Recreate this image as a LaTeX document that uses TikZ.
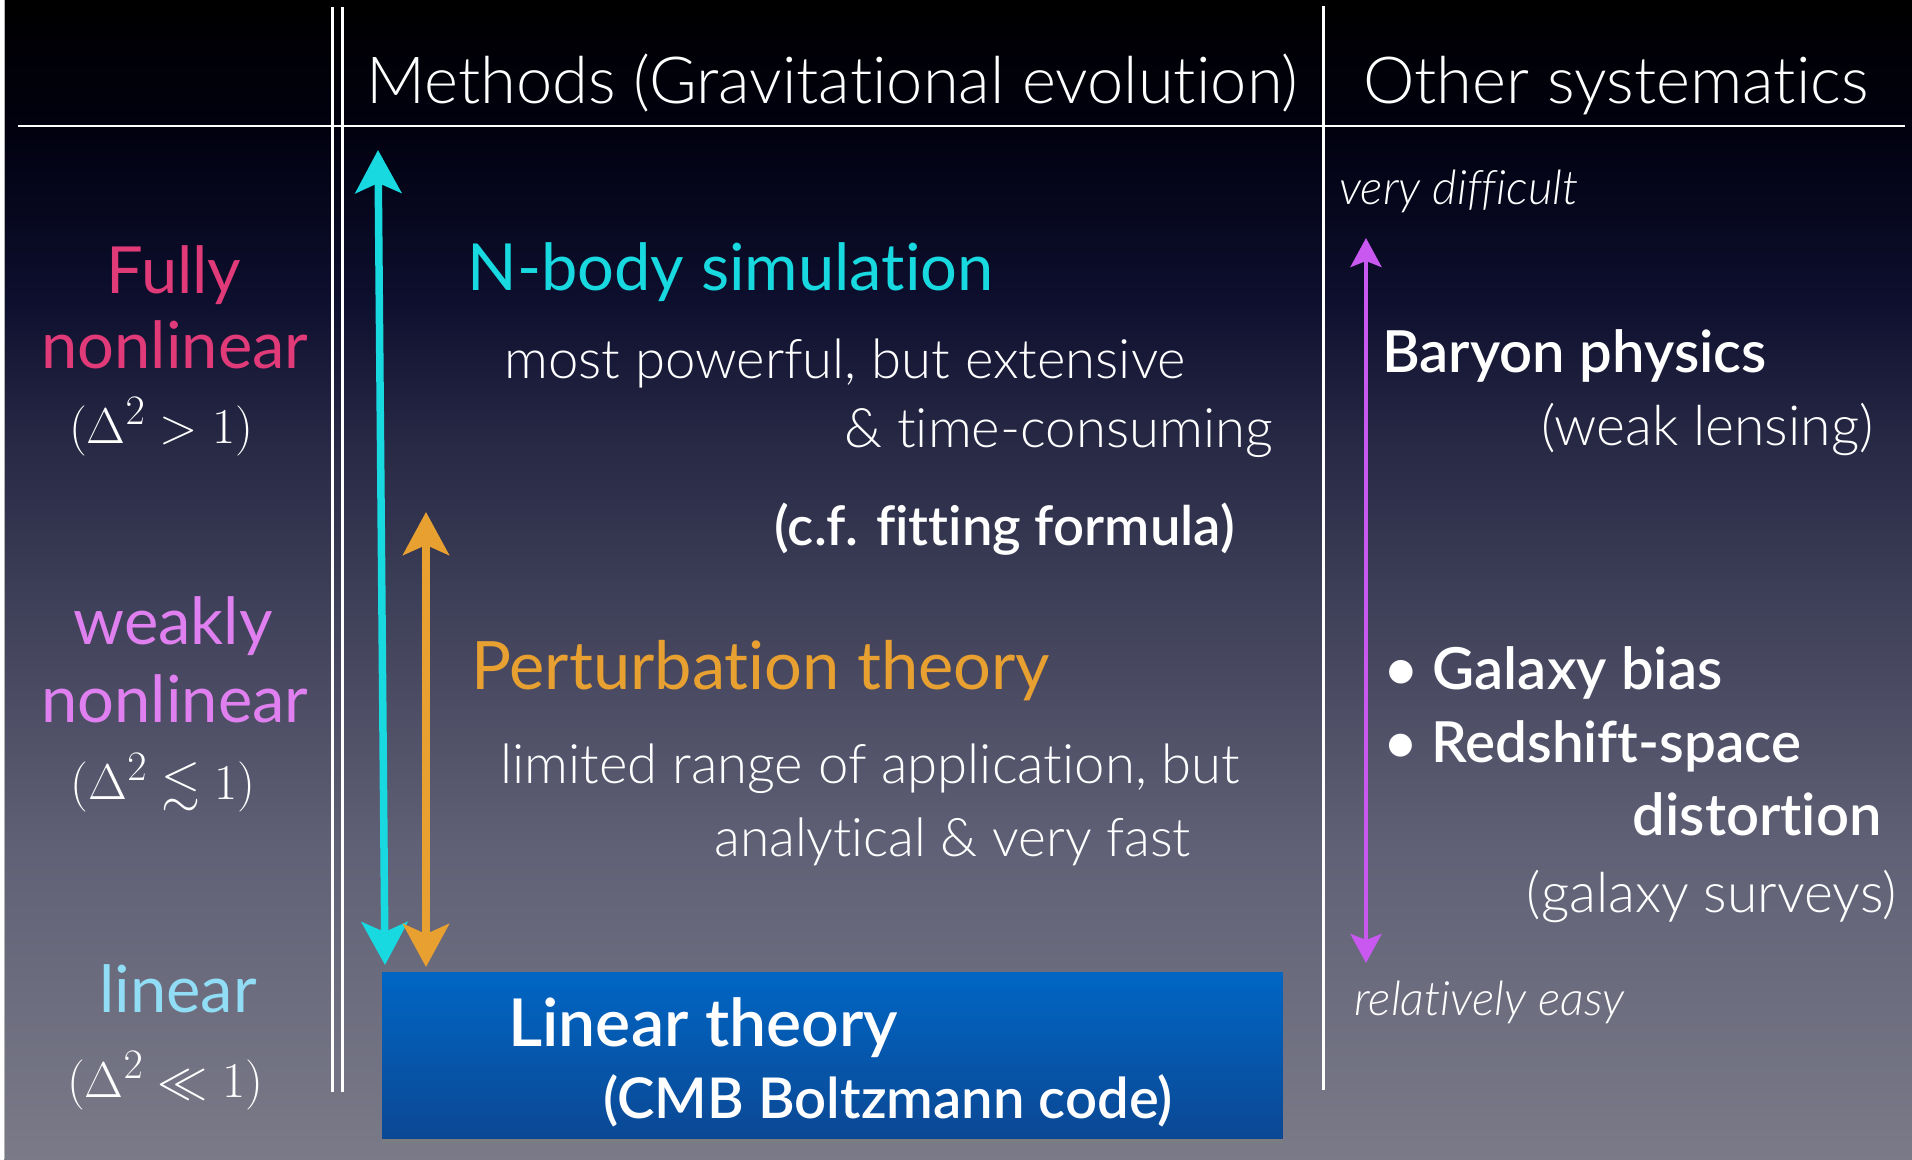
\documentclass[tikz,border=0pt]{standalone}
\usepackage{amssymb}
\usepackage{fontspec}
\setmainfont{Lato}[Ligatures={NoCommon}]
\newfontfamily\lightf{Lato Light}[Ligatures={NoCommon}]
\newfontfamily\medf{Lato Semibold}[Ligatures={NoCommon}]
\usetikzlibrary{arrows.meta,shadows}
\definecolor{bgA}{HTML}{7A7A88}
\definecolor{bgB}{HTML}{606176}
\definecolor{bgC}{HTML}{45465E}
\definecolor{bgD}{HTML}{282A46}
\definecolor{bgE}{HTML}{0D0F2E}
\definecolor{bgF}{HTML}{010110}
\definecolor{pinkc}{HTML}{E03A78}
\definecolor{violetc}{HTML}{E080F0}
\definecolor{lblue}{HTML}{90DDF5}
\definecolor{cyanc}{HTML}{18D8E0}
\definecolor{orangec}{HTML}{E8A030}
\definecolor{purplec}{HTML}{C858F0}
\definecolor{boxtop}{HTML}{0066C4}
\definecolor{boxbot}{HTML}{0B4894}
\pgfdeclareverticalshading{bgshade}{100bp}{color(0bp)=(bgA); color(25bp)=(bgA); color(38.33bp)=(bgB); color(46.96bp)=(bgC); color(55.59bp)=(bgD); color(62.06bp)=(bgE); color(69.39bp)=(bgF); color(75bp)=(black); color(100bp)=(black)}
\newcommand\bigmath[1]{\scalebox{1.15}{$#1$}}
\tikzset{
  txt/.style={inner sep=0pt, text=white},
  hdr/.style={txt, font=\lightf\fontsize{37}{41}\selectfont},
  lbl/.style={inner sep=0pt, font=\fontsize{37}{41}\selectfont},
  mth/.style={txt, font=\fontsize{24.88}{30}\selectfont},
  ttl/.style={inner sep=0pt, font=\fontsize{37}{41}\selectfont},
  body/.style={txt, font=\lightf\fontsize{31}{35}\selectfont},
  bold/.style={txt, font=\medf\fontsize{33}{37}\selectfont},
  note/.style={txt, font=\lightf\itshape\fontsize{27}{31}\selectfont},
  paren/.style={txt, font=\lightf\fontsize{31.5}{35}\selectfont},
  rule/.style={white, line width=0.06cm},
  bigarrow/.style={line width=0.15cm, {Stealth[length=0.86cm,width=0.92cm,inset=0.2cm]}-{Stealth[length=0.86cm,width=0.92cm,inset=0.2cm]}},
  smallarrow/.style={line width=0.09cm, {Stealth[length=0.58cm,width=0.62cm,inset=0.12cm]}-{Stealth[length=0.58cm,width=0.62cm,inset=0.12cm]}},
}
\begin{document}
\begin{tikzpicture}[x=0.02cm, y=-0.02cm]
\useasboundingbox (0,0) rectangle (1912,1159);
\fill[white] (0,0) rectangle (1912,1159);
\shade[shading=bgshade] (4,0) rectangle (1912,1159);
\draw[gray!60, line width=0.02cm] (4,0) -- (4,1159);

% grid lines
\coordinate (hl) at (18,126);
\coordinate (hr) at (1905,126);
\coordinate (d1t) at (332,7);
\coordinate (d1b) at (332,1092);
\coordinate (d2t) at (342,7);
\coordinate (d2b) at (342,1092);
\coordinate (st) at (1323,6);
\coordinate (sb) at (1323,1090);
\draw[rule] (hl) -- (hr);
\draw[rule] (d1t) -- (d1b);
\draw[rule] (d2t) -- (d2b);
\draw[rule] (st) -- (sb);

% headers
\node[hdr, anchor=base west] (h1) at (366,104) {Methods (Gravitational evolution)};
\node[hdr, anchor=base west] (h2) at (1363,104) {Other systematics};

% left labels
\node[lbl, text=pinkc, anchor=base] (l1) at (174,293) {Fully};
\node[lbl, text=pinkc, anchor=base] (l2) at (175,368) {nonlinear};
\node[mth, anchor=base] (m1) at (161,443) {\bigmath{(\Delta^2>1)}};
\node[lbl, text=violetc, anchor=base] (l3) at (173,644) {weakly};
\node[lbl, text=violetc, anchor=base] (l4) at (175,722) {nonlinear};
\node[mth, anchor=base] (m2) at (163,799) {\bigmath{(\Delta^2\lesssim1)}};
\node[lbl, text=lblue, anchor=base] (l5) at (178,1012) {linear};
\node[mth, anchor=base] (m3) at (165,1097) {\bigmath{(\Delta^2\ll1)}};

% linear theory box
\node[draw=none, top color=boxtop, bottom color=boxbot, minimum width=18.02cm, minimum height=3.32cm, inner sep=0pt,
      drop shadow={opacity=0.55, shadow xshift=0cm, shadow yshift=-0.1cm}] (lin) at (832.5,1055) {};
\node[txt, font=\medf\fontsize{37.6}{41}\selectfont, anchor=base west] (lt1) at (508,1046) {Linear theory};
\node[txt, font=\medf\fontsize{32}{36}\selectfont, anchor=base east] (lt2) at (1173,1118) {(CMB Boltzmann code)};

% middle column
\node[ttl, text=cyanc, anchor=base west] (nb) at (467,290) {N-body simulation};
\node[body, anchor=base west] (nb1) at (504,378) {most powerful, but extensive};
\node[body, anchor=base east] (nb2) at (1273,447) {\& time-consuming};
\node[txt, font=\medf\fontsize{31}{35}\selectfont, anchor=base east] (cf) at (1235,545) {(c.f. fitting formula)};
\node[ttl, text=orangec, anchor=base west, font=\fontsize{38}{42}\selectfont] (pt) at (471,689) {Perturbation theory};
\node[body, anchor=base west] (pt1) at (500,783) {limited range of application, but};
\node[body, anchor=base east, font=\lightf\fontsize{30.3}{34}\selectfont] (pt2) at (1191,856) {analytical \& very fast};

% arrows
\coordinate (cyT) at (378,150);
\coordinate (cyB) at (385,965);
\coordinate (orT) at (426,512);
\coordinate (orB) at (426,967);
\draw[bigarrow, cyanc] (cyB) -- (cyT);
\draw[bigarrow, orangec] (orB) -- (orT);

% right column
\node[note, anchor=base west] (vd) at (1339,204) {very difficult};
\node[bold, anchor=base west] (bp) at (1382,372) {Baryon physics};
\node[paren, anchor=base east] (wl) at (1874,445) {(weak lensing)};
\node[bold, anchor=base west] (gb) at (1384,689) {\textbullet\ Galaxy bias};
\node[bold, anchor=base west, font=\medf\fontsize{32.2}{36}\selectfont] (rs) at (1384,762) {\textbullet\ Redshift-space};
\node[bold, anchor=base east] (dd) at (1882,835) {distortion};
\node[paren, anchor=base east] (gs) at (1897,912) {(galaxy surveys)};
\node[note, anchor=base west] (re) at (1354,1015) {relatively easy};
\coordinate (puT) at (1366,238);
\coordinate (puB) at (1366,963);
\draw[smallarrow, purplec] (puB) -- (puT);
\end{tikzpicture}
\end{document}
